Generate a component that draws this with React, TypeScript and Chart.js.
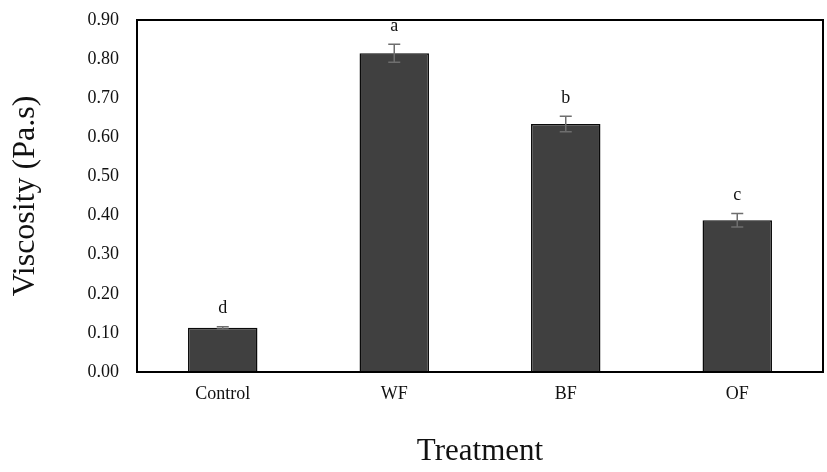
import React, { useEffect, useRef } from "react";
import { Chart, registerables } from "chart.js";

Chart.register(...registerables);

const categories = ["Control", "WF", "BF", "OF"];
const viscosity = [0.113, 0.815, 0.634, 0.388];
const errors = [0.003, 0.023, 0.02, 0.017];
const letters = ["d", "a", "b", "c"];
const yTicks = [0, 0.1, 0.2, 0.3, 0.4, 0.5, 0.6, 0.7, 0.8, 0.9];

const FONT = "'Liberation Serif', 'Times New Roman', serif";

const extrasPlugin = {
  id: "extras",
  afterDatasetsDraw(chart: any) {
    const ctx = chart.ctx;
    const meta = chart.getDatasetMeta(0);
    const y = chart.scales.y;
    ctx.save();
    meta.data.forEach((bar: any, i: number) => {
      const x = bar.x;
      const top = y.getPixelForValue(viscosity[i] + errors[i]);
      const bot = y.getPixelForValue(viscosity[i] - errors[i]);
      ctx.strokeStyle = "#6e6e6e";
      ctx.lineWidth = 1.5;
      ctx.beginPath();
      ctx.moveTo(x, top);
      ctx.lineTo(x, bot);
      ctx.moveTo(x - 6, top);
      ctx.lineTo(x + 6, top);
      ctx.moveTo(x - 6, bot);
      ctx.lineTo(x + 6, bot);
      ctx.stroke();
      ctx.fillStyle = "#111";
      ctx.font = `18px ${FONT}`;
      ctx.textAlign = "center";
      ctx.textBaseline = "middle";
      ctx.fillText(letters[i], x, top - 18);
    });
    const a = chart.chartArea;
    ctx.strokeStyle = "#000";
    ctx.lineWidth = 2;
    ctx.strokeRect(a.left, a.top, a.right - a.left, a.bottom - a.top);
    ctx.restore();
  },
};

export default function App() {
  const ref = useRef<HTMLCanvasElement>(null);
  useEffect(() => {
    document.body.style.margin = "0";
    const chart = new Chart(ref.current as HTMLCanvasElement, {
      type: "bar",
      data: {
        labels: categories,
        datasets: [
          {
            data: viscosity,
            backgroundColor: "#404040",
            borderColor: "#0a0a0a",
            borderWidth: 1.5,
            barPercentage: 0.405,
            categoryPercentage: 1,
          },
        ],
      },
      options: {
        animation: false,
        responsive: false,
        layout: { padding: { top: 20, right: 4, left: 0, bottom: 0 } },
        plugins: { legend: { display: false }, tooltip: { enabled: false } },
        scales: {
          x: {
            grid: { display: false, drawTicks: false },
            border: { display: false },
            ticks: {
              padding: 11,
              color: "#111",
              font: { family: FONT, size: 18 },
            },
            title: {
              display: true,
              text: "Treatment",
              color: "#111",
              font: { family: FONT, size: 31 },
              padding: { top: 0, bottom: 2 },
            },
            afterFit(scale: any) {
              scale.height = 100;
            },
          },
          y: {
            min: 0,
            max: 0.9,
            grid: { display: false, drawTicks: false },
            border: { display: false },
            afterBuildTicks(scale: any) {
              scale.ticks = yTicks.map((v) => ({ value: v }));
            },
            ticks: {
              padding: 18,
              color: "#111",
              font: { family: FONT, size: 18 },
              callback: (v: any) => Number(v).toFixed(2),
            },
            title: {
              display: true,
              text: "Viscosity (Pa.s)",
              color: "#111",
              font: { family: FONT, size: 32 },
              padding: { top: 6, bottom: 0 },
            },
            afterFit(scale: any) {
              scale.width = 137;
              scale.paddingTop = 0;
              scale.paddingBottom = 0;
            },
          },
        },
      },
      plugins: [extrasPlugin],
    } as any);
    return () => chart.destroy();
  }, []);
  return (
    <div style={{ width: 827, height: 472 }}>
      <canvas ref={ref} width={827} height={472} />
    </div>
  );
}
